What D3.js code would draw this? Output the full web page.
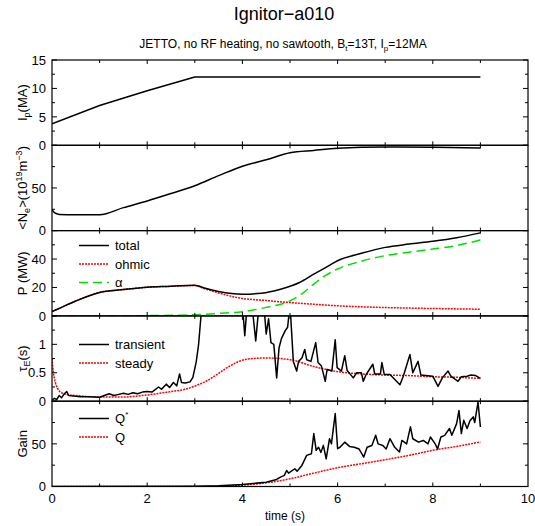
<!DOCTYPE html>
<html>
<head>
<meta charset="utf-8">
<script src="https://cdn.jsdelivr.net/npm/d3@7"></script>
<style>
  html, body { margin: 0; padding: 0; background: #fff; }
  svg { display: block; font-family: "Liberation Sans", Arial, sans-serif; }
</style>
</head>
<body>
<svg id="chart" width="535" height="526"></svg>
<script>
// ---------------- data (time in s) ----------------
const xTickLabels = [0, 2, 4, 6, 8, 10];

const ipData = [[0,3.8],[1,7.0],[2,9.6],[3,12],[9,12]];

const neData = [[0,24.9],[0.05,21],[0.15,19],[0.5,18.5],[1.0,18.6],[1.5,26.9],[2.0,34.8],[2.5,43.5],
  [3.0,52.6],[3.5,64.4],[4.0,75.5],[4.5,83],[5.0,91.3],[5.5,94],[6.0,96.4],[7.0,98],[8.0,97.6],[9.0,96.8]];

const pTotal = [[0,3],[0.2,6],[0.5,10.5],[1.0,16.5],[1.5,18.5],[2.0,20.2],[2.5,20.8],[3.0,21.6],[3.2,19.6],
  [3.5,17.2],[4.0,15.3],[4.4,16],[4.8,18.8],[5.2,23.5],[5.5,29.4],[5.8,35],[6.0,38.8],[6.5,44],[7.0,48.2],
  [7.5,50.5],[8.0,52.5],[8.5,55],[9.0,58.4]];
const pOhmic = [[0,3],[0.2,6],[0.5,10.5],[1.0,16.5],[1.5,18.5],[2.0,20.2],[2.5,20.8],[3.0,21.4],[3.2,19.2],
  [3.4,17.2],[3.7,14.3],[4.0,12.3],[4.5,10.8],[5.0,9.4],[5.5,8.2],[6.0,7.1],[7.0,5.9],[8.0,5.2],[9.0,4.7]];
const pAlpha = [[0,0],[1,0],[2,0.2],[2.7,0.5],[3.0,0.8],[3.5,1.8],[4.0,3],[4.5,6],[5.0,10.6],[5.25,15.5],
  [5.5,22.4],[5.75,28.5],[6.0,33],[6.5,38.5],[7.0,42.4],[7.5,44.8],[8.0,47],[8.5,49.5],[9.0,53.4]];

const tauTransient = [[0,0.02],[0.05,0.05],[0.1,0.03],[0.15,0.1],[0.2,0.06],[0.25,0.12],[0.31,0.17],[0.35,0.1],
  [0.45,0.09],[0.6,0.08],[0.8,0.08],[1.0,0.07],[1.1,0.1],[1.2,0.13],[1.3,0.1],[1.4,0.12],[1.5,0.14],[1.6,0.12],
  [1.7,0.15],[1.8,0.13],[1.9,0.16],[2.0,0.17],[2.1,0.16],[2.24,0.25],[2.3,0.21],[2.4,0.3],[2.47,0.24],
  [2.55,0.33],[2.62,0.27],[2.68,0.48],[2.72,0.33],[2.8,0.32],[2.9,0.34],[2.96,0.42],[3.03,0.69],[3.08,1.0],
  [3.13,1.5],[3.2,1.9],[3.9,2.0],[4.0,1.7],[4.05,1.15],[4.1,1.7],[4.2,1.7],[4.28,1.06],[4.35,1.7],[4.45,1.7],
  [4.5,1.18],[4.55,1.45],[4.6,1.03],[4.66,1.0],[4.72,0.41],[4.77,0.94],[4.82,1.1],[4.9,1.24],[4.95,1.3],
  [5.0,1.7],[5.07,0.7],[5.14,0.53],[5.18,0.7],[5.25,0.76],[5.31,0.91],[5.35,0.73],[5.44,0.7],[5.54,1.03],
  [5.59,0.68],[5.66,0.62],[5.74,0.35],[5.78,0.56],[5.88,0.53],[5.95,1.08],[5.99,0.59],[6.08,0.53],[6.15,0.8],
  [6.2,0.54],[6.33,0.41],[6.4,0.5],[6.5,0.5],[6.54,0.35],[6.6,0.47],[6.74,0.65],[6.78,0.48],[6.9,0.48],
  [6.93,0.68],[6.98,0.47],[7.1,0.47],[7.31,0.29],[7.38,0.44],[7.52,0.82],[7.58,0.5],[7.69,0.7],[7.75,0.46],
  [8.0,0.44],[8.11,0.26],[8.2,0.41],[8.32,0.53],[8.38,0.44],[8.53,0.35],[8.6,0.43],[8.72,0.44],[8.8,0.46],
  [8.9,0.45],[9.0,0.40]];
const tauSteady = [[0,0.75],[0.03,0.5],[0.07,0.33],[0.12,0.22],[0.2,0.15],[0.3,0.12],[0.5,0.1],[0.8,0.08],
  [1.0,0.075],[1.5,0.075],[2.0,0.11],[2.5,0.17],[2.8,0.21],[3.1,0.3],[3.3,0.38],[3.5,0.49],[3.7,0.6],
  [3.9,0.69],[4.1,0.74],[4.5,0.76],[5.0,0.73],[5.5,0.61],[6.0,0.52],[6.5,0.48],[7.0,0.46],[7.5,0.45],
  [8.0,0.43],[8.5,0.42],[9.0,0.40]];

const gainQstar = [[0,0],[3.0,0.3],[3.5,0.8],[4.0,2.4],[4.5,5],[4.7,7.8],[4.8,11],[4.88,13],[4.93,18.8],
  [4.97,15.7],[5.1,20.8],[5.15,18],[5.25,24.7],[5.35,36.5],[5.45,38.4],[5.5,62],[5.55,42.4],[5.6,46],
  [5.65,40],[5.7,48.2],[5.76,32.5],[5.83,56],[5.87,50],[5.95,85.5],[6.0,44.3],[6.05,46],[6.15,52],
  [6.25,47],[6.35,46],[6.45,44],[6.55,34.5],[6.62,46],[6.72,48],[6.8,60],[6.85,50],[6.95,48],[7.02,44],
  [7.1,56],[7.2,46],[7.3,40.4],[7.35,54],[7.45,50],[7.53,70],[7.58,56],[7.7,52],[7.8,54],[7.9,50],
  [7.95,58],[8.05,50],[8.1,44],[8.17,58],[8.25,60],[8.35,68],[8.4,60],[8.5,73.7],[8.55,89],[8.6,62],
  [8.65,77.6],[8.72,68],[8.78,77],[8.85,81.6],[8.88,75],[8.95,99],[9.0,69.8]];
const gainQ = [[0,0],[3.0,0.1],[3.5,0.4],[4.0,1.6],[4.5,4.3],[5.0,9],[5.5,15.7],[6.0,22],[6.5,26.7],
  [7.0,31.4],[7.5,36.5],[8.0,42.4],[8.5,47],[9.0,52.2]];

// ---------------- layout ----------------
const svg = d3.select("#chart");
const X0 = 52, X1 = 528, TOP = 60, PH = 85.3;
const x = d3.scaleLinear().domain([0, 10]).range([X0, X1]);

const BLACK = "#000", RED = "#ff0000", GREEN = "#00e000";
const styles = {
  solid:  {stroke: BLACK, dash: null},
  dotted: {stroke: RED, dash: "2,1"},
  dashed: {stroke: GREEN, dash: "9,5"}
};

const panels = [
  {domain:[0,15], major:5, minor:2.5, labels:[0,5,10,15],
   series:[{data:ipData, style:"solid"}], legend:[]},
  {domain:[0,100], major:50, minor:25, labels:[0,50],
   series:[{data:neData, style:"solid", smooth:true}], legend:[]},
  {domain:[0,60], major:20, minor:10, labels:[0,20,40],
   series:[{data:pTotal, style:"solid", smooth:true},{data:pOhmic, style:"dotted", smooth:true},{data:pAlpha, style:"dashed", smooth:true}],
   legend:[{text:"total", style:"solid"},{text:"ohmic", style:"dotted"},{text:"α", style:"dashed"}], legY:[245.5, 264, 282.5]},
  {domain:[0,1.5], major:0.5, minor:0.25, labels:[0,0.5,1],
   series:[{data:tauTransient, style:"solid"},{data:tauSteady, style:"dotted", smooth:true}],
   legend:[{text:"transient", style:"solid"},{text:"steady", style:"dotted"}], legY:[344.5, 363]},
  {domain:[0,100], major:50, minor:25, labels:[0,50],
   series:[{data:gainQstar, style:"solid"},{data:gainQ, style:"dotted", smooth:true}],
   legend:[{text:"Q", sup:"*", style:"solid"},{text:"Q", style:"dotted"}], legY:[418.5, 437]}
];

const defs = svg.append("defs");

panels.forEach((p, i) => {
  const y0 = TOP + i * PH, y1 = y0 + PH;
  const y = d3.scaleLinear().domain(p.domain).range([y1, y0]);
  const g = svg.append("g");

  defs.append("clipPath").attr("id", "clip" + i)
    .append("rect").attr("x", X0).attr("y", y0).attr("width", X1 - X0).attr("height", PH);

  // data lines
  const dg = g.append("g").attr("clip-path", `url(#clip${i})`);
  p.series.slice().reverse().forEach(s => {
    const st = styles[s.style];
    const line = d3.line().x(d => x(d[0])).y(d => y(d[1]))
      .curve(s.smooth ? d3.curveMonotoneX : d3.curveLinear);
    dg.append("path").attr("d", line(s.data)).attr("fill", "none")
      .attr("stroke", st.stroke).attr("stroke-width", 1.5)
      .attr("stroke-dasharray", st.dash).attr("stroke-linejoin", "round");
  });

  // frame
  g.append("rect").attr("x", X0).attr("y", y0).attr("width", X1 - X0).attr("height", PH)
    .attr("fill", "none").attr("stroke", BLACK).attr("stroke-width", 1.2);

  // y ticks (left & right, inward)
  const yt = d3.range(p.domain[0], p.domain[1] + 1e-9, p.minor);
  yt.forEach(v => {
    const isMajor = Math.abs(v / p.major - Math.round(v / p.major)) < 1e-6;
    const len = isMajor ? 5 : 3;
    g.append("line").attr("x1", X0).attr("x2", X0 + len).attr("y1", y(v)).attr("y2", y(v))
      .attr("stroke", BLACK).attr("stroke-width", 1);
    g.append("line").attr("x1", X1).attr("x2", X1 - len).attr("y1", y(v)).attr("y2", y(v))
      .attr("stroke", BLACK).attr("stroke-width", 1);
  });
  // x ticks (top & bottom, inward)
  d3.range(1, 10).forEach(t => {
    const len = t % 2 === 0 ? 4 : 3;
    g.append("line").attr("x1", x(t)).attr("x2", x(t)).attr("y1", y0).attr("y2", y0 + len)
      .attr("stroke", BLACK).attr("stroke-width", 1);
    g.append("line").attr("x1", x(t)).attr("x2", x(t)).attr("y1", y1).attr("y2", y1 - len)
      .attr("stroke", BLACK).attr("stroke-width", 1);
  });

  // y tick labels
  p.labels.forEach(v => {
    g.append("text").attr("x", X0 - 6).attr("y", y(v)).attr("dy", "0.36em")
      .attr("text-anchor", "end").attr("font-size", 13).text(String(v));
  });

  // legend
  p.legend.forEach((l, k) => {
    const ly = p.legY[k];
    const st = styles[l.style];
    g.append("line").attr("x1", 79).attr("x2", 109).attr("y1", ly).attr("y2", ly)
      .attr("stroke", st.stroke).attr("stroke-width", 1.5).attr("stroke-dasharray", st.dash);
    const t = g.append("text").attr("x", 115).attr("y", ly).attr("dy", "0.36em").attr("font-size", 13);
    t.append("tspan").text(l.text);
    if (l.sup) t.append("tspan").attr("dy", -6).attr("font-size", 8).text(l.sup);
  });
});

// y axis titles
function yTitle(i, build) {
  const cy = TOP + i * PH + PH / 2;
  const t = svg.append("text").attr("transform", `translate(27,${cy}) rotate(-90)`)
    .attr("text-anchor", "middle").attr("font-size", 13);
  build(t);
}
yTitle(0, t => { t.append("tspan").text("I"); t.append("tspan").attr("dy", 3).attr("font-size", 9).text("p");
  t.append("tspan").attr("dy", -3).text("(MA)"); });
yTitle(1, t => { t.append("tspan").text("<N"); t.append("tspan").attr("dy", 3).attr("font-size", 9).text("e");
  t.append("tspan").attr("dy", -3).text(">(10"); t.append("tspan").attr("dy", -5).attr("font-size", 9).text("19");
  t.append("tspan").attr("dy", 5).text("m"); t.append("tspan").attr("dy", -5).attr("font-size", 9).text("−3");
  t.append("tspan").attr("dy", 5).text(")"); });
yTitle(2, t => t.text("P (MW)"));
yTitle(3, t => { t.append("tspan").text("τ"); t.append("tspan").attr("dy", 3).attr("font-size", 9).text("E");
  t.append("tspan").attr("dy", -3).text("(s)"); });
yTitle(4, t => t.text("Gain"));

// x tick labels
const yBottom = TOP + 5 * PH;
xTickLabels.forEach(v => {
  svg.append("text").attr("x", x(v)).attr("y", yBottom + 12).attr("dy", "0.36em")
    .attr("text-anchor", "middle").attr("font-size", 13).text(String(v));
});
svg.append("text").attr("x", 285).attr("y", 520).attr("text-anchor", "middle")
  .attr("font-size", 12).text("time (s)");

// titles
svg.append("text").attr("x", 284).attr("y", 20).attr("text-anchor", "middle")
  .attr("font-size", 18).text("Ignitor−a010");
const sub = svg.append("text").attr("x", 283).attr("y", 48).attr("text-anchor", "middle").attr("font-size", 12);
sub.append("tspan").text("JETTO, no RF heating, no sawtooth, B");
sub.append("tspan").attr("dy", 3).attr("font-size", 8).text("t");
sub.append("tspan").attr("dy", -3).text("=13T, I");
sub.append("tspan").attr("dy", 3).attr("font-size", 8).text("p");
sub.append("tspan").attr("dy", -3).text("=12MA");
</script>
</body>
</html>
